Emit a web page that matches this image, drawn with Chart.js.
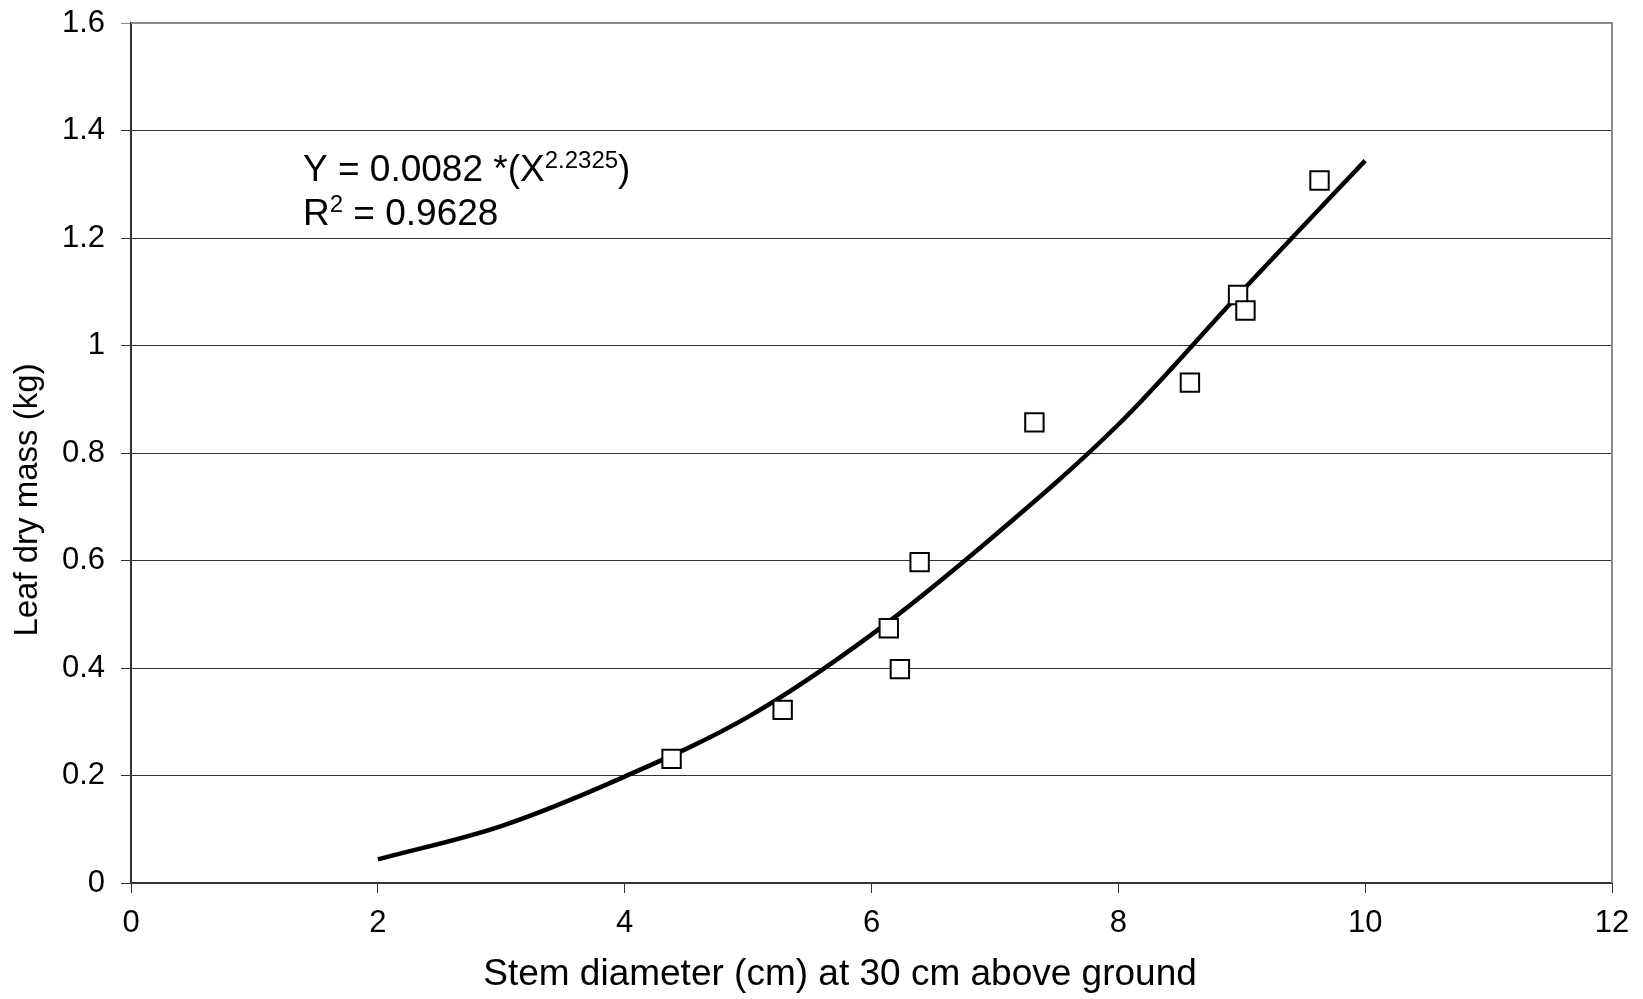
<!DOCTYPE html>
<html>
<head>
<meta charset="utf-8">
<script src="https://cdn.jsdelivr.net/npm/chart.js@4.4.1/dist/chart.umd.min.js"></script>
<style>
  html, body { margin: 0; padding: 0; background: #fff; }
  #wrap { width: 1643px; height: 999px; }
</style>
</head>
<body>
<div id="wrap"><canvas id="leafChart" width="1643" height="999"></canvas></div>
<script>
// measured trees
const stemDiameter = [4.38, 5.28, 6.14, 6.23, 6.39, 7.32, 8.58, 8.97, 9.03, 9.63];
const leafMass = [0.231, 0.322, 0.474, 0.398, 0.597, 0.857, 0.931, 1.094, 1.065, 1.307];

// trendline
const fitX = [2, 3, 4, 5, 6, 7, 8, 9, 10];
const fitY = [0.044, 0.106, 0.198, 0.309, 0.462, 0.647, 0.853, 1.101, 1.344];

const xTickLabels = ["0", "2", "4", "6", "8", "10", "12"];
const yTickLabels = ["0", "0.2", "0.4", "0.6", "0.8", "1", "1.2", "1.4", "1.6"];

const xTitle = "Stem diameter (cm) at 30 cm above ground";
const yTitle = "Leaf dry mass (kg)";
const eqMain = "Y = 0.0082 *(X";
const eqPower = "2.2325";
const r2Value = "0.9628";

const FONT = "'Liberation Sans', Arial, sans-serif";
Chart.defaults.font.family = FONT;
Chart.defaults.color = "#000";

const extras = {
  id: "extras",
  beforeDatasetsDraw(chart) {
    const { ctx, chartArea: a } = chart;
    ctx.save();
    ctx.strokeStyle = "#8a8a8a";
    ctx.lineWidth = 2;
    ctx.beginPath();
    ctx.moveTo(a.left, a.top);
    ctx.lineTo(a.right, a.top);
    ctx.lineTo(a.right, a.bottom);
    ctx.stroke();
    ctx.restore();
  },
  afterDraw(chart) {
    const { ctx } = chart;
    ctx.save();
    ctx.fillStyle = "#000";
    ctx.textAlign = "center";
    ctx.textBaseline = "middle";
    ctx.font = "37px " + FONT;
    ctx.fillText(xTitle, 840, 975);
    ctx.translate(28, 500);
    ctx.rotate(-Math.PI / 2);
    ctx.font = "33px " + FONT;
    ctx.fillText(yTitle, 0, 0);
    ctx.restore();

    // equation
    ctx.save();
    ctx.fillStyle = "#000";
    ctx.textAlign = "left";
    ctx.textBaseline = "alphabetic";
    let x = 303;
    ctx.font = "37px " + FONT;
    ctx.fillText(eqMain, x, 181);
    x += ctx.measureText(eqMain).width;
    ctx.font = "24px " + FONT;
    ctx.fillText(eqPower, x, 168);
    x += ctx.measureText(eqPower).width;
    ctx.font = "37px " + FONT;
    ctx.fillText(")", x, 181);

    x = 303;
    ctx.fillText("R", x, 225);
    x += ctx.measureText("R").width;
    ctx.font = "24px " + FONT;
    ctx.fillText("2", x, 212);
    x += ctx.measureText("2").width;
    ctx.font = "37px " + FONT;
    ctx.fillText(" = " + r2Value, x, 225);
    ctx.restore();
  },
};

const ctx = document.getElementById("leafChart").getContext("2d");
const leafChart = new Chart(ctx, {
  type: "scatter",
  data: {
    datasets: [
      {
        label: "Power fit",
        type: "line",
        data: fitX.map((x, i) => ({ x: x, y: fitY[i] })),
        borderColor: "#000",
        borderWidth: 4.5,
        pointRadius: 0,
        cubicInterpolationMode: "monotone",
        fill: false,
        order: 2,
      },
      {
        label: "Trees",
        data: stemDiameter.map((x, i) => ({ x: x, y: leafMass[i] })),
        pointStyle: "rect",
        pointRadius: 13,
        borderColor: "#000",
        borderWidth: 2,
        backgroundColor: "#fff",
        order: 1,
      },
    ],
  },
  options: {
    responsive: false,
    animation: false,
    devicePixelRatio: 1,
    layout: { padding: { left: 0, right: 31, top: 23, bottom: 0 } },
    scales: {
      x: {
        type: "linear",
        min: 0,
        max: 12,
        afterFit: (s) => {
          s.height = 116;
          s.paddingLeft = 0;
          s.paddingRight = 0;
        },
        border: { color: "#333", width: 2 },
        grid: { drawOnChartArea: false, color: "#333", tickLength: 10, tickWidth: 1 },
        ticks: {
          stepSize: 2,
          padding: 12,
          font: { size: 31 },
          color: "#000",
          callback: (v, i) => xTickLabels[i],
        },
      },
      y: {
        min: 0,
        max: 1.6,
        afterFit: (s) => {
          s.width = 131;
          s.paddingTop = 0;
          s.paddingBottom = 0;
        },
        border: { color: "#333", width: 2 },
        grid: {
          color: (c) => (c.index === yTickLabels.length - 1 ? "#8a8a8a" : "#333"),
          lineWidth: 1,
          tickLength: 10,
        },
        ticks: {
          stepSize: 0.2,
          padding: 16,
          font: { size: 31 },
          color: "#000",
          callback: (v, i) => yTickLabels[i],
        },
      },
    },
    plugins: {
      legend: { display: false },
      tooltip: { enabled: false },
    },
  },
  plugins: [extras],
});
</script>
</body>
</html>
